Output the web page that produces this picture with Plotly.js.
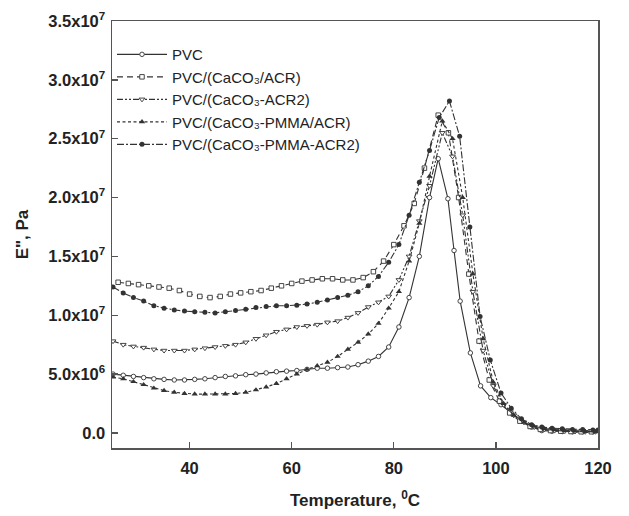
<!DOCTYPE html>
<html>
<head>
<meta charset="utf-8">
<script src="https://cdn.plot.ly/plotly-3.0.1.min.js"></script>
<style>html,body{margin:0;padding:0;background:#fff;}#chart{width:629px;height:516px;}</style>
</head>
<body>
<div id="chart"></div>
<script>
// Series names
const names = [
  "PVC",
  "PVC/(CaCO₃/ACR)",
  "PVC/(CaCO₃-ACR2)",
  "PVC/(CaCO₃-PMMA/ACR)",
  "PVC/(CaCO₃-PMMA-ACR2)"
];

// Temperature (°C) and E'' (Pa) for each series
const tPVC = [25,27,29,31,33,35,37,39,41,43,45,47,49,51,53,55,57,59,61,63,65,67,69,71,73,75,77,79,81,83,85,87,88.7,90.6,91.8,93,95,97,99,101,103,105,107,109,111,113,115,117,119];
const ePVC = [5.0e6,4.9e6,4.8e6,4.7e6,4.6e6,4.55e6,4.5e6,4.5e6,4.55e6,4.6e6,4.7e6,4.8e6,4.85e6,4.95e6,5.0e6,5.1e6,5.2e6,5.25e6,5.3e6,5.4e6,5.5e6,5.5e6,5.55e6,5.6e6,5.8e6,6.1e6,6.5e6,7.3e6,9.0e6,11.5e6,15.0e6,20.0e6,23.3e6,19.9e6,15.5e6,11.2e6,6.8e6,4.0e6,3.0e6,2.4e6,1.7e6,1.1e6,0.5e6,0.2e6,0.15e6,0.12e6,0.1e6,0.1e6,0.1e6];

const tACR = [26,28,30,32,34,36,38,40,42,44,46,48,50,52,54,56,58,60,62,64,66,68,70,72,74,76,78,80,82,84,86,88.7,90.7,92.7,94.7,96.7,98.7,100.7,102.7,104.7,106.7,108.7,110.7,112.7,114.7,116.7,118.7];
const eACR = [12.8e6,12.7e6,12.6e6,12.5e6,12.4e6,12.3e6,12.1e6,11.8e6,11.6e6,11.5e6,11.6e6,11.8e6,11.9e6,12.0e6,12.1e6,12.3e6,12.5e6,12.7e6,12.9e6,13.0e6,13.1e6,13.1e6,13.0e6,13.0e6,13.2e6,13.7e6,14.6e6,16.0e6,17.6e6,19.5e6,22.5e6,27.0e6,25.5e6,20.0e6,13.5e6,7.8e6,4.5e6,2.7e6,1.7e6,1.0e6,0.55e6,0.3e6,0.2e6,0.15e6,0.12e6,0.1e6,0.1e6];

const tACR2 = [25,27,29,31,33,35,37,39,41,43,45,47,49,51,53,55,57,59,61,63,65,67,69,71,73,75,77,79,81,83,85,87,89.5,91.5,93.5,95.5,97.5,99.5,101.5,103.5,105.5,107.5,109.5,111.5,113.5,115.5,117.5,119.5];
const eACR2 = [7.8e6,7.5e6,7.35e6,7.25e6,7.1e6,7.0e6,7.0e6,7.0e6,7.1e6,7.2e6,7.3e6,7.4e6,7.5e6,7.7e6,8.0e6,8.3e6,8.6e6,8.8e6,9.0e6,9.1e6,9.2e6,9.4e6,9.5e6,9.8e6,10.2e6,10.7e6,11.1e6,11.6e6,13.0e6,15.0e6,18.0e6,21.0e6,25.5e6,23.5e6,18.5e6,12.0e6,7.0e6,4.0e6,2.4e6,1.5e6,0.9e6,0.5e6,0.3e6,0.2e6,0.15e6,0.12e6,0.1e6,0.1e6];

const tPMMA = [25,27,29,31,33,35,37,39,41,43,45,47,49,51,53,55,57,59,61,63,65,67,69,71,73,75,77,79,81,83,85,87,89.5,91.5,93.5,95.5,97.5,99.5,101.5,103.5,105.5,107.5,109.5,111.5,113.5,115.5,117.5,119.5];
const ePMMA = [4.75e6,4.6e6,4.35e6,4.1e6,3.8e6,3.6e6,3.45e6,3.35e6,3.3e6,3.3e6,3.3e6,3.3e6,3.35e6,3.45e6,3.65e6,3.9e6,4.2e6,4.6e6,5.0e6,5.4e6,5.7e6,6.0e6,6.5e6,7.1e6,7.7e6,8.4e6,9.3e6,10.6e6,12.0e6,14.6e6,17.8e6,21.8e6,26.5e6,25.0e6,20.0e6,13.5e6,8.0e6,4.3e6,2.5e6,1.5e6,0.9e6,0.55e6,0.35e6,0.25e6,0.2e6,0.15e6,0.12e6,0.1e6];

const tPMMA2 = [25,27,29,31,33,35,37,39,41,43,45,47,49,51,53,55,57,59,61,63,65,67,69,71,73,75,77,79,81,83,85,87,88.9,90.9,92.9,94.9,96.9,98.9,101,103,105,107,109,111,113,115,117,119,120];
const ePMMA2 = [12.4e6,11.9e6,11.5e6,11.2e6,10.8e6,10.6e6,10.45e6,10.35e6,10.3e6,10.25e6,10.2e6,10.3e6,10.4e6,10.5e6,10.65e6,10.75e6,10.8e6,10.8e6,10.85e6,10.95e6,11.1e6,11.3e6,11.5e6,11.7e6,12.0e6,12.5e6,13.3e6,14.5e6,16.0e6,18.5e6,21.3e6,24.0e6,26.8e6,28.2e6,25.2e6,17.5e6,9.9e6,6.2e6,3.4e6,2.1e6,1.2e6,0.7e6,0.5e6,0.4e6,0.35e6,0.3e6,0.3e6,0.25e6,0.25e6];

// Axis ticks
const xTicks = [40,60,80,100,120];
const yTicks = [0,5e6,1e7,1.5e7,2e7,2.5e7,3e7,3.5e7];
const yTickText = ["0.0","5.0x10<sup>6</sup>","1.0x10<sup>7</sup>","1.5x10<sup>7</sup>","2.0x10<sup>7</sup>","2.5x10<sup>7</sup>","3.0x10<sup>7</sup>","3.5x10<sup>7</sup>"];

const col = '#333';
function tr(x, y, name, sym, filled, dash, msize){
  return {x:x, y:y, name:name, type:'scatter', mode:'lines+markers',
    line:{color:col, width:1.1, dash:dash},
    marker:{symbol:sym, size:msize, color: filled ? col : '#fff', line:{color:col, width: filled ? 0 : 0.9}}};
}
const data = [
  tr(tPVC, ePVC, names[0], 'circle', false, 'solid', 4.5),
  tr(tACR, eACR, names[1], 'square', false, '6px,4px', 4.5),
  tr(tACR2, eACR2, names[2], 'triangle-down', false, '6px,2px,2px,2px,2px,2px', 5),
  tr(tPMMA, ePMMA, names[3], 'triangle-up', true, '3px,2.5px', 5.5),
  tr(tPMMA2, ePMMA2, names[4], 'circle', true, '7px,2px,2px,2px', 5)
];

const font = 'Liberation Sans, Arial, Helvetica, sans-serif';
const layout = {
  width:629, height:516,
  margin:{l:112, r:31, t:21, b:68},
  paper_bgcolor:'#fff', plot_bgcolor:'#fff',
  showlegend:true,
  legend:{x:0.0, y:0.96, xanchor:'left', yanchor:'top', bgcolor:'rgba(0,0,0,0)',
    itemwidth:50,
    font:{family:font, size:15, color:'#222'}, tracegroupgap:0},
  xaxis:{range:[24.8,120], tickvals:xTicks, ticktext:xTicks.map(String),
    ticks:'inside', ticklen:6, tickwidth:1.3, tickcolor:'#555',
    showline:true, linecolor:'#555', linewidth:1.5, mirror:true,
    showgrid:false, zeroline:false, ticklabelstandoff:5,
    tickfont:{family:font, size:16.5, color:'#222', weight:700},
    title:{text:'Temperature, <sup>0</sup>C', font:{family:font, size:17, color:'#222', weight:700}, standoff:18}},
  yaxis:{range:[-1.28e6,3.5e7], tickvals:yTicks, ticktext:yTickText,
    ticks:'inside', ticklen:6, tickwidth:1.3, tickcolor:'#555',
    showline:true, linecolor:'#555', linewidth:1.5, mirror:true,
    showgrid:false, zeroline:false, ticklabelstandoff:2,
    tickfont:{family:font, size:16.5, color:'#222', weight:700},
    title:{text:'E", Pa', font:{family:font, size:17, color:'#222', weight:700}, standoff:15}}
};
Plotly.newPlot('chart', data, layout, {displayModeBar:false, staticPlot:true});
</script>
</body>
</html>
